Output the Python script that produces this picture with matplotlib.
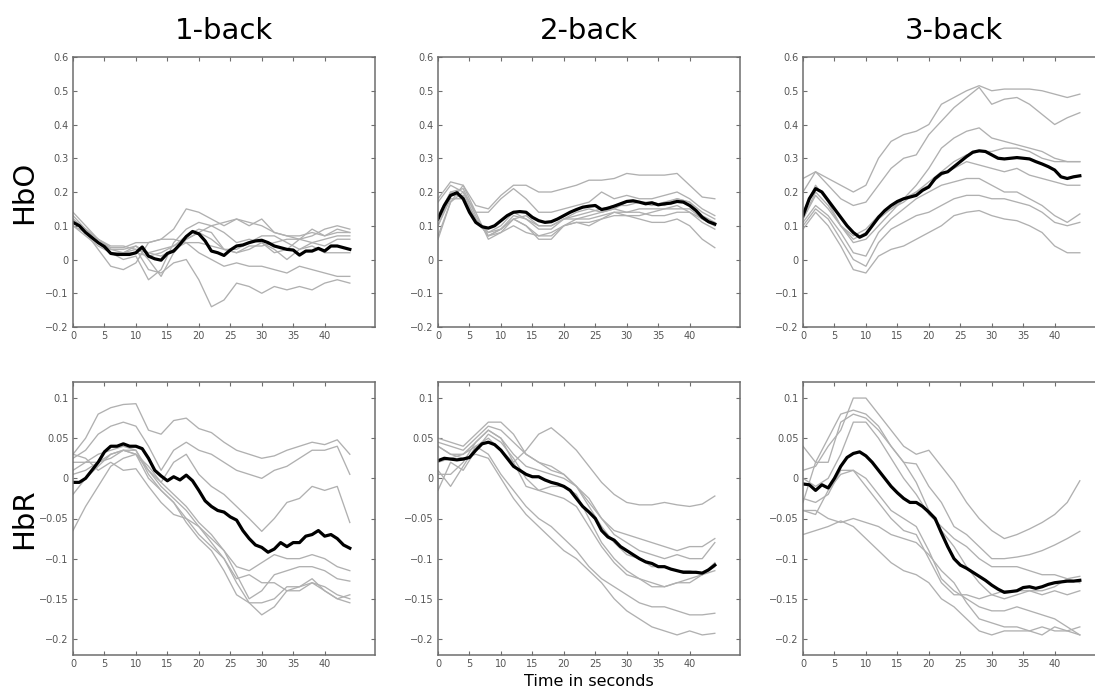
import matplotlib
matplotlib.use("Agg")
import matplotlib.pyplot as plt
import numpy as np

# subject curves sampled every 2 s, group mean every 1 s
t_subj = list(range(0, 45, 2))
t_mean = list(range(0, 45))

loads = ["1-back", "2-back", "3-back"]
signals = ["HbO", "HbR"]

# ---- HbO ----
hbo_1back = [
    [0.14, 0.10, 0.06, 0.035, 0.035, 0.05, 0.05, 0.06, 0.09, 0.15, 0.14, 0.12, 0.10, 0.12, 0.11, 0.10, 0.08, 0.07, 0.07, 0.08, 0.07, 0.08, 0.08],
    [0.12, 0.08, 0.05, 0.02, 0.02, 0.03, -0.03, -0.04, -0.01, 0.0, -0.06, -0.14, -0.12, -0.07, -0.08, -0.10, -0.08, -0.09, -0.08, -0.09, -0.07, -0.06, -0.07],
    [0.13, 0.09, 0.05, 0.02, 0.0, 0.01, -0.06, -0.03, 0.05, 0.09, 0.11, 0.10, 0.08, 0.05, 0.06, 0.05, 0.02, 0.03, 0.06, 0.05, 0.04, 0.06, 0.06],
    [0.12, 0.08, 0.03, -0.02, -0.03, -0.01, 0.05, 0.06, 0.06, 0.05, 0.02, 0.0, -0.02, -0.01, -0.02, -0.02, -0.03, -0.04, -0.02, -0.03, -0.04, -0.05, -0.05],
    [0.10, 0.08, 0.05, 0.03, 0.02, 0.04, 0.0, -0.05, 0.02, 0.06, 0.08, 0.06, 0.03, 0.02, 0.03, 0.05, 0.03, 0.0, 0.03, 0.05, 0.06, 0.07, 0.07],
    [0.11, 0.09, 0.06, 0.03, 0.03, 0.04, 0.02, 0.03, 0.04, 0.06, 0.08, 0.10, 0.11, 0.12, 0.10, 0.12, 0.08, 0.07, 0.06, 0.09, 0.07, 0.09, 0.08],
    [0.12, 0.09, 0.06, 0.04, 0.04, 0.03, 0.02, 0.01, 0.03, 0.05, 0.05, 0.04, 0.03, 0.03, 0.05, 0.07, 0.07, 0.05, 0.03, 0.04, 0.02, 0.02, 0.02],
    [0.10, 0.07, 0.04, 0.02, 0.02, 0.02, 0.01, 0.02, 0.04, 0.07, 0.09, 0.08, 0.03, 0.02, 0.04, 0.04, 0.05, 0.06, 0.06, 0.07, 0.09, 0.10, 0.09],
]
hbo_1back_mean = [0.11, 0.1, 0.08, 0.065, 0.05, 0.038, 0.018, 0.015, 0.015, 0.015,
                  0.02, 0.037, 0.01, 0.002, -0.002, 0.018, 0.025, 0.045, 0.068, 0.083,
                  0.076, 0.055, 0.025, 0.02, 0.012, 0.028, 0.04, 0.043, 0.05, 0.055,
                  0.057, 0.05, 0.04, 0.035, 0.03, 0.028, 0.013, 0.025, 0.025, 0.033,
                  0.025, 0.04, 0.04, 0.035, 0.03]

hbo_2back = [
    [0.18, 0.23, 0.22, 0.16, 0.15, 0.19, 0.22, 0.22, 0.20, 0.20, 0.21, 0.22, 0.235, 0.235, 0.24, 0.255, 0.25, 0.25, 0.25, 0.255, 0.22, 0.185, 0.18],
    [0.17, 0.22, 0.20, 0.14, 0.14, 0.18, 0.21, 0.18, 0.14, 0.14, 0.15, 0.16, 0.17, 0.20, 0.18, 0.19, 0.18, 0.18, 0.19, 0.20, 0.18, 0.15, 0.13],
    [0.12, 0.20, 0.21, 0.13, 0.07, 0.09, 0.12, 0.10, 0.07, 0.07, 0.10, 0.12, 0.13, 0.14, 0.15, 0.17, 0.17, 0.16, 0.17, 0.18, 0.17, 0.14, 0.12],
    [0.07, 0.17, 0.22, 0.14, 0.06, 0.08, 0.12, 0.13, 0.10, 0.10, 0.12, 0.14, 0.15, 0.14, 0.15, 0.14, 0.14, 0.13, 0.13, 0.14, 0.14, 0.12, 0.10],
    [0.10, 0.19, 0.19, 0.12, 0.07, 0.09, 0.12, 0.10, 0.06, 0.06, 0.10, 0.11, 0.11, 0.12, 0.14, 0.13, 0.13, 0.14, 0.15, 0.15, 0.15, 0.12, 0.10],
    [0.06, 0.17, 0.20, 0.12, 0.07, 0.08, 0.10, 0.08, 0.07, 0.08, 0.10, 0.11, 0.10, 0.12, 0.13, 0.13, 0.12, 0.11, 0.11, 0.12, 0.10, 0.06, 0.035],
    [0.13, 0.20, 0.18, 0.12, 0.08, 0.09, 0.13, 0.12, 0.10, 0.10, 0.12, 0.13, 0.14, 0.15, 0.16, 0.16, 0.17, 0.17, 0.16, 0.18, 0.17, 0.13, 0.11],
    [0.10, 0.18, 0.18, 0.12, 0.08, 0.10, 0.14, 0.12, 0.09, 0.09, 0.12, 0.12, 0.12, 0.13, 0.14, 0.14, 0.15, 0.15, 0.15, 0.16, 0.14, 0.11, 0.09],
]
hbo_2back_mean = [0.12, 0.16, 0.19, 0.198, 0.18, 0.14, 0.11, 0.097, 0.093, 0.1,
                  0.115, 0.13, 0.14, 0.142, 0.14, 0.125, 0.115, 0.11, 0.112, 0.12,
                  0.13, 0.14, 0.148, 0.155, 0.158, 0.16, 0.148, 0.152, 0.158, 0.165,
                  0.172, 0.174, 0.17, 0.165, 0.168, 0.162, 0.165, 0.167, 0.172, 0.17,
                  0.16, 0.145, 0.125, 0.112, 0.105]

hbo_3back = [
    [0.24, 0.26, 0.24, 0.22, 0.20, 0.22, 0.30, 0.35, 0.37, 0.38, 0.40, 0.46, 0.48, 0.50, 0.515, 0.50, 0.505, 0.505, 0.505, 0.50, 0.49, 0.48, 0.49],
    [0.20, 0.26, 0.22, 0.18, 0.16, 0.17, 0.22, 0.27, 0.30, 0.31, 0.37, 0.41, 0.45, 0.48, 0.51, 0.46, 0.475, 0.48, 0.46, 0.43, 0.40, 0.42, 0.435],
    [0.14, 0.22, 0.17, 0.10, 0.05, 0.06, 0.10, 0.14, 0.18, 0.22, 0.27, 0.33, 0.36, 0.38, 0.39, 0.36, 0.35, 0.34, 0.33, 0.32, 0.30, 0.29, 0.29],
    [0.12, 0.20, 0.16, 0.10, 0.06, 0.08, 0.12, 0.15, 0.17, 0.20, 0.23, 0.26, 0.29, 0.31, 0.32, 0.32, 0.33, 0.33, 0.32, 0.30, 0.29, 0.29, 0.29],
    [0.12, 0.19, 0.15, 0.10, 0.07, 0.09, 0.13, 0.15, 0.18, 0.20, 0.22, 0.25, 0.27, 0.29, 0.28, 0.27, 0.26, 0.27, 0.25, 0.24, 0.23, 0.22, 0.22],
    [0.11, 0.16, 0.13, 0.08, 0.02, 0.01, 0.08, 0.12, 0.15, 0.18, 0.20, 0.22, 0.23, 0.24, 0.24, 0.22, 0.20, 0.20, 0.18, 0.16, 0.13, 0.11, 0.135],
    [0.10, 0.15, 0.12, 0.06, 0.0, -0.02, 0.05, 0.09, 0.11, 0.13, 0.14, 0.16, 0.18, 0.19, 0.19, 0.18, 0.18, 0.17, 0.16, 0.14, 0.11, 0.10, 0.11],
    [0.09, 0.14, 0.10, 0.04, -0.03, -0.04, 0.01, 0.03, 0.04, 0.06, 0.08, 0.10, 0.13, 0.14, 0.145, 0.13, 0.12, 0.115, 0.10, 0.08, 0.04, 0.02, 0.02],
]
hbo_3back_mean = [0.13, 0.18, 0.21, 0.2, 0.175, 0.15, 0.125, 0.1, 0.08, 0.066,
                  0.075, 0.1, 0.125, 0.145, 0.16, 0.172, 0.18, 0.185, 0.19, 0.205,
                  0.215, 0.24, 0.255, 0.26, 0.275, 0.29, 0.305, 0.318, 0.322, 0.32,
                  0.31, 0.3, 0.298, 0.3, 0.302, 0.3, 0.298, 0.29, 0.283, 0.275,
                  0.265, 0.245, 0.24, 0.245, 0.248]

# ---- HbR ----
hbr_1back = [
    [0.03, 0.05, 0.08, 0.088, 0.092, 0.093, 0.06, 0.055, 0.072, 0.075, 0.062, 0.057, 0.045, 0.035, 0.03, 0.025, 0.028, 0.035, 0.04, 0.045, 0.042, 0.048, 0.03],
    [0.025, 0.035, 0.055, 0.065, 0.07, 0.065, 0.04, 0.01, 0.035, 0.045, 0.035, 0.03, 0.02, 0.01, 0.005, 0.0, 0.01, 0.015, 0.025, 0.035, 0.035, 0.04, 0.005],
    [0.02, 0.02, 0.03, 0.035, 0.04, 0.035, 0.01, -0.005, 0.02, 0.03, 0.005, -0.01, -0.02, -0.035, -0.05, -0.066, -0.05, -0.03, -0.025, -0.01, -0.015, -0.01, -0.055],
    [-0.065, -0.035, -0.01, 0.015, 0.025, 0.03, 0.01, -0.01, -0.025, -0.04, -0.06, -0.075, -0.09, -0.11, -0.115, -0.105, -0.095, -0.10, -0.10, -0.095, -0.10, -0.11, -0.115],
    [-0.02, 0.0, 0.015, 0.03, 0.035, 0.03, 0.015, -0.005, -0.02, -0.035, -0.055, -0.07, -0.09, -0.12, -0.15, -0.14, -0.12, -0.115, -0.11, -0.11, -0.115, -0.125, -0.128],
    [0.01, 0.02, 0.02, 0.025, 0.035, 0.03, 0.0, -0.015, -0.03, -0.05, -0.07, -0.085, -0.10, -0.13, -0.155, -0.17, -0.16, -0.14, -0.14, -0.13, -0.135, -0.145, -0.15],
    [0.005, 0.01, 0.02, 0.03, 0.035, 0.035, 0.005, -0.015, -0.03, -0.055, -0.075, -0.09, -0.115, -0.145, -0.155, -0.155, -0.15, -0.135, -0.135, -0.125, -0.14, -0.15, -0.145],
    [0.03, 0.025, 0.01, 0.02, 0.01, 0.012, -0.01, -0.03, -0.045, -0.05, -0.06, -0.08, -0.10, -0.125, -0.12, -0.13, -0.13, -0.14, -0.135, -0.13, -0.14, -0.15, -0.155],
]
hbr_1back_mean = [-0.005, -0.005, 0.0, 0.01, 0.02, 0.033, 0.04, 0.04, 0.043, 0.04,
                  0.04, 0.037, 0.025, 0.01, 0.003, -0.003, 0.002, -0.002, 0.004, -0.003,
                  -0.015, -0.028, -0.035, -0.04, -0.042, -0.048, -0.052, -0.065, -0.075, -0.083,
                  -0.086, -0.092, -0.088, -0.08, -0.085, -0.08, -0.08, -0.072, -0.07, -0.065,
                  -0.072, -0.07, -0.075, -0.083, -0.087]

hbr_2back = [
    [0.04, 0.03, 0.03, 0.045, 0.06, 0.05, 0.02, 0.035, 0.055, 0.063, 0.05, 0.035, 0.015, -0.005, -0.02, -0.03, -0.033, -0.033, -0.03, -0.033, -0.035, -0.032, -0.022],
    [0.05, 0.045, 0.04, 0.055, 0.07, 0.07, 0.055, 0.03, 0.02, 0.01, 0.005, -0.01, -0.025, -0.05, -0.065, -0.07, -0.075, -0.08, -0.085, -0.09, -0.085, -0.085, -0.075],
    [0.045, 0.04, 0.035, 0.05, 0.065, 0.06, 0.045, 0.03, 0.02, 0.015, 0.005, -0.01, -0.03, -0.05, -0.07, -0.08, -0.09, -0.095, -0.10, -0.095, -0.10, -0.10, -0.08],
    [0.005, 0.005, 0.02, 0.045, 0.06, 0.05, 0.03, 0.015, 0.01, 0.005, 0.0, -0.01, -0.035, -0.06, -0.08, -0.095, -0.10, -0.11, -0.11, -0.115, -0.115, -0.12, -0.105],
    [-0.015, 0.02, 0.01, 0.035, 0.055, 0.045, 0.025, 0.0, -0.015, -0.02, -0.025, -0.035, -0.06, -0.085, -0.105, -0.12, -0.125, -0.135, -0.135, -0.13, -0.13, -0.12, -0.11],
    [0.01, -0.01, 0.015, 0.04, 0.05, 0.035, 0.02, -0.01, -0.015, -0.01, -0.01, -0.02, -0.05, -0.08, -0.10, -0.115, -0.125, -0.13, -0.135, -0.13, -0.125, -0.12, -0.115],
    [0.02, 0.025, 0.03, 0.04, 0.03, 0.005, -0.015, -0.035, -0.05, -0.06, -0.075, -0.09, -0.11, -0.125, -0.135, -0.145, -0.155, -0.16, -0.16, -0.165, -0.17, -0.17, -0.168],
    [0.04, 0.03, 0.025, 0.03, 0.025, 0.0, -0.025, -0.045, -0.06, -0.075, -0.09, -0.10, -0.115, -0.13, -0.15, -0.165, -0.175, -0.185, -0.19, -0.195, -0.19, -0.195, -0.193],
]
hbr_2back_mean = [0.022, 0.025, 0.024, 0.023, 0.024, 0.026, 0.035, 0.043, 0.045, 0.042,
                  0.035, 0.025, 0.015, 0.01, 0.005, 0.002, 0.002, -0.002, -0.005, -0.007,
                  -0.01, -0.015, -0.025, -0.035, -0.042, -0.05, -0.065, -0.073, -0.077, -0.085,
                  -0.09, -0.095, -0.1, -0.104, -0.106, -0.11, -0.11, -0.113, -0.115, -0.117,
                  -0.117, -0.117, -0.118, -0.114, -0.108]

hbr_3back = [
    [0.01, 0.015, 0.04, 0.06, 0.10, 0.10, 0.08, 0.06, 0.04, 0.03, 0.035, 0.015, -0.005, -0.03, -0.05, -0.065, -0.075, -0.07, -0.063, -0.055, -0.045, -0.03, -0.003],
    [-0.03, 0.02, 0.05, 0.08, 0.085, 0.08, 0.065, 0.04, 0.02, 0.018, -0.01, -0.03, -0.06, -0.07, -0.085, -0.10, -0.10, -0.098, -0.095, -0.09, -0.083, -0.075, -0.066],
    [0.04, 0.02, 0.02, 0.07, 0.08, 0.075, 0.06, 0.04, 0.02, -0.005, -0.04, -0.065, -0.085, -0.11, -0.13, -0.145, -0.15, -0.145, -0.14, -0.14, -0.135, -0.125, -0.122],
    [0.0, -0.01, 0.0, 0.03, 0.07, 0.07, 0.05, 0.025, 0.0, -0.02, -0.045, -0.06, -0.075, -0.085, -0.10, -0.11, -0.11, -0.11, -0.115, -0.12, -0.12, -0.125, -0.13],
    [-0.025, -0.03, -0.02, 0.01, 0.01, -0.01, -0.03, -0.05, -0.065, -0.07, -0.10, -0.13, -0.145, -0.145, -0.15, -0.145, -0.14, -0.14, -0.14, -0.145, -0.14, -0.145, -0.14],
    [-0.04, -0.045, -0.015, 0.005, 0.01, 0.0, -0.02, -0.04, -0.05, -0.06, -0.09, -0.125, -0.14, -0.15, -0.16, -0.165, -0.165, -0.16, -0.165, -0.17, -0.175, -0.185, -0.195],
    [-0.04, -0.04, -0.05, -0.055, -0.05, -0.055, -0.06, -0.07, -0.075, -0.08, -0.095, -0.115, -0.13, -0.155, -0.175, -0.18, -0.185, -0.185, -0.19, -0.185, -0.19, -0.19, -0.185],
    [-0.07, -0.065, -0.06, -0.053, -0.06, -0.075, -0.09, -0.105, -0.115, -0.12, -0.13, -0.15, -0.16, -0.175, -0.19, -0.195, -0.19, -0.19, -0.19, -0.195, -0.185, -0.19, -0.195],
]
hbr_3back_mean = [-0.007, -0.008, -0.015, -0.008, -0.012, 0.0, 0.015, 0.026, 0.031, 0.033,
                  0.028, 0.02, 0.01, 0.0, -0.01, -0.018, -0.025, -0.03, -0.03, -0.035,
                  -0.042, -0.05, -0.068, -0.085, -0.1, -0.108, -0.112, -0.117, -0.122, -0.127,
                  -0.133, -0.138, -0.142, -0.141, -0.14, -0.136, -0.135, -0.137, -0.135, -0.132,
                  -0.13, -0.129, -0.128, -0.128, -0.127]

subjects = [[hbo_1back, hbo_2back, hbo_3back], [hbr_1back, hbr_2back, hbr_3back]]
means = [[hbo_1back_mean, hbo_2back_mean, hbo_3back_mean],
         [hbr_1back_mean, hbr_2back_mean, hbr_3back_mean]]

ylims = [(-0.2, 0.6), (-0.22, 0.12)]
yticks = [[-0.2, -0.1, 0, 0.1, 0.2, 0.3, 0.4, 0.5, 0.6],
          [-0.2, -0.15, -0.1, -0.05, 0, 0.05, 0.1]]
ytick_labels = [["\u22120.2", "\u22120.1", "0", "0.1", "0.2", "0.3", "0.4", "0.5", "0.6"],
                ["\u22120.2", "\u22120.15", "\u22120.1", "\u22120.05", "0", "0.05", "0.1"]]
xticks = [0, 5, 10, 15, 20, 25, 30, 35, 40]

W, H = 1095, 691
fig = plt.figure(figsize=(W / 100, H / 100), dpi=100)

lefts = [73, 438, 803]
rows = [(57, 327), (382, 655)]   # top / bottom in pixels
axw = 302
edge = "#6e6e6e"

for r in range(2):
    top, bot = rows[r]
    for c in range(3):
        ax = fig.add_axes([lefts[c] / W, 1 - bot / H, axw / W, (bot - top) / H])
        for s in subjects[r][c]:
            ax.plot(t_subj, s, color="#b0b0b0", lw=0.95)
        ax.plot(t_mean, means[r][c], color="black", lw=2.3)
        ax.set_xlim(0, 48)
        ax.set_ylim(*ylims[r])
        ax.set_xticks(xticks)
        ax.set_yticks(yticks[r])
        ax.set_yticklabels(ytick_labels[r])
        ax.tick_params(direction="in", length=3, width=0.8, color=edge,
                       labelcolor="#555555", labelsize=7, top=True, right=True, pad=3)
        for sp in ax.spines.values():
            sp.set_color(edge)
            sp.set_linewidth(1.1)

for c in range(3):
    xc = (lefts[c] + axw / 2) / W
    fig.text(xc, 1 - 31 / H, loads[c], ha="center", va="center", fontsize=21)

for r in range(2):
    top, bot = rows[r]
    fig.text(24 / W, 1 - (top + bot) / 2 / H, signals[r], rotation=90,
             ha="center", va="center", fontsize=21)

fig.text((lefts[1] + axw / 2) / W, 1 - 681 / H, "Time in seconds",
         ha="center", va="center", fontsize=11.5)

fig.savefig("out.png", dpi=100)
